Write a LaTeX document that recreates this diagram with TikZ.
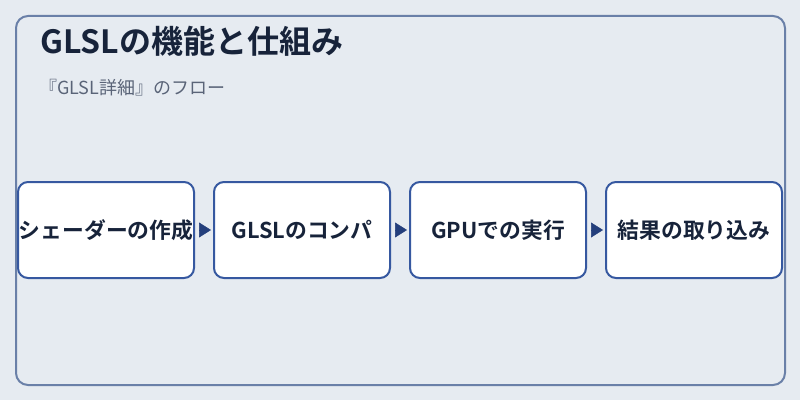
\documentclass[tikz,border=0pt]{standalone}
\usepackage{fontspec}
\setmainfont{Noto Sans CJK JP}
\newfontfamily\jpbold{Noto Sans CJK JP Bold}
\usetikzlibrary{arrows.meta}
\definecolor{bgc}{HTML}{E6EBF1}
\definecolor{framec}{HTML}{6A80A8}
\definecolor{boxc}{HTML}{3658A0}
\definecolor{arrc}{HTML}{243F7C}
\definecolor{titlec}{HTML}{17233A}
\definecolor{subc}{HTML}{5A6478}
\tikzset{
  stepbox/.style={draw=boxc, line width=2pt, fill=white, rounded corners=10pt,
    minimum width=176pt, minimum height=96pt, inner sep=0pt,
    font=\jpbold\fontsize{21.8}{26}\selectfont, text=titlec},
  flow/.style={draw=arrc, line width=0.5pt, -{Triangle[length=12pt,width=15pt,fill=arrc]}, shorten >=2pt, shorten <=4pt}
}
\begin{document}
\begin{tikzpicture}[x=1pt,y=1pt]
\fill[bgc] (0,0) rectangle (800,400);
\useasboundingbox (0,0) rectangle (800,400);
\draw[framec, line width=2pt, rounded corners=12pt] (16,15) rectangle (785,384);
\node[anchor=base west, inner sep=0pt, text=titlec, font=\jpbold\fontsize{32}{38}\selectfont] (title) at (40,346) {GLSLの機能と仕組み};
\node[anchor=base west, inner sep=0pt, text=subc, font=\fontsize{18}{22}\selectfont] (sub) at (39,306) {『GLSL詳細』のフロー};
\node[stepbox] (s1) at (106,170) {シェーダーの作成};
\node[stepbox] (s2) at (302,170) {GLSLのコンパ};
\node[stepbox] (s3) at (498,170) {GPUでの実行};
\node[stepbox] (s4) at (694,170) {結果の取り込み};
\draw[flow] (s1) -- (s2);
\draw[flow] (s2) -- (s3);
\draw[flow] (s3) -- (s4);
\end{tikzpicture}
\end{document}
